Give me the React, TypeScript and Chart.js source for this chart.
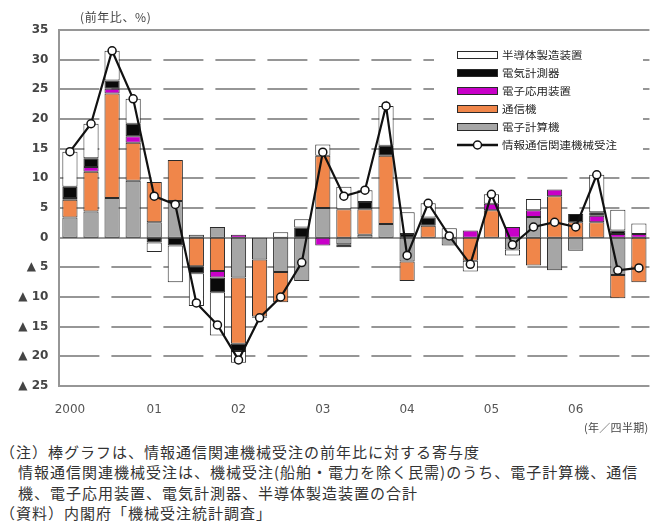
import { useEffect, useRef } from "react";
import { Chart, registerables } from "chart.js";

Chart.register(...registerables);

// Quarterly periods 2000 Q1 – 2006 Q4; only the first quarter of each year is labelled
const quarterLabels = [
  "2000", "", "", "",
  "01", "", "", "",
  "02", "", "", "",
  "03", "", "", "",
  "04", "", "", "",
  "05", "", "", "",
  "06", "", "", "",
];

// Contributions (percentage points) to the year-on-year change
const computers = [3.4, 4.4, 6.7, 9.6, 2.6, 6.2, 0.5, 1.8, -6.7, -3.7, -5.8, -7.3, 5.0, -1.1, 0.5, 2.3, -4.0, 0, -1.3, 0, 0, -2.0, 3.5, -5.5, -2.2, 0, -6.3, 0];
const telecom = [3.0, 6.7, 17.6, 6.4, 6.8, 6.9, -4.8, -5.6, -11.2, -9.6, -5.1, 0, 8.8, 4.8, 4.3, 11.5, -3.3, 2.0, 0, -3.9, 4.6, 0, -4.7, 7.0, 2.6, 2.6, -3.9, -7.5];
const electronicApps = [0.3, 0.8, 0.8, 1.1, 0, 0, 0, -1.1, 0.5, 0, 0, 0, -1.3, 0, 0, 0, 0, 0, 0, 1.2, 1.1, 1.8, 1.1, 1.1, 0, 1.1, 0.6, 0.6];
const measuring = [1.9, 1.5, 1.4, 2.1, -0.8, -1.3, -1.2, -2.5, -1.2, 0, 0, 1.7, 0, -0.5, 1.2, 1.7, 0.6, 1.4, 0, 0, 0, 0, 0, 0, 1.4, 0.6, 0.6, 0];
const semiconductor = [5.9, 5.8, 5.0, 4.2, -1.6, -6.2, -5.5, -7.3, -2.0, -0.2, 0.9, 1.4, 1.9, 3.8, 2.0, 6.7, 3.7, 2.4, 1.6, -1.8, 1.6, -1.0, 1.9, 0, 0, 6.3, 3.5, 1.8];

// Year-on-year change of IT-related machinery orders (%)
const totalOrders = [14.5, 19.2, 31.5, 23.4, 7.0, 5.6, -11.0, -14.7, -20.6, -13.5, -10.0, -4.2, 14.4, 7.0, 8.0, 22.2, -3.0, 5.8, 0.3, -4.5, 7.3, -1.2, 1.8, 2.6, 1.8, 10.6, -5.5, -5.1];

const yMin = -25;
const yMax = 35;
const yStep = 5;

const seriesNames = ["電子計算機", "通信機", "電子応用装置", "電気計測器", "半導体製造装置"];
const lineName = "情報通信関連機械受注";

const GRID = "#969696";
const EDGE = "#2a2a2a";
const LABEL_FONT = "'DejaVu Sans', sans-serif";
const JP_FONT = "'Noto Sans CJK JP', 'Noto Sans', sans-serif";
const DASH = 40;
const GAP = 12;

const nz = (arr: number[]) => arr.map((v) => (v === 0 ? null : v));

// Plot frame and horizontal value grid: long dashes, solid at zero and at the edges
const valueGrid = {
  id: "valueGrid",
  beforeDatasetsDraw(chart: any) {
    const ctx = chart.ctx;
    const area = chart.chartArea;
    const y = chart.scales.y;
    ctx.save();
    ctx.fillStyle = GRID;
    for (const t of y.ticks) {
      const py = Math.round(y.getPixelForValue(t.value)) - 1;
      const solid = t.value === 0 || t.value === yMax || t.value === yMin;
      if (solid) {
        ctx.fillRect(area.left, py, area.right - area.left, 2);
      } else {
        for (let x = area.left; x < area.right; x += DASH + GAP) {
          ctx.fillRect(x, py, Math.min(DASH, area.right - x), 2);
        }
      }
    }
    ctx.fillRect(Math.round(area.left) - 1, area.top - 1, 2, area.bottom - area.top + 2);
    ctx.restore();
  },
};

// Legend drawn inside the plot, top right, on a white panel
const insideLegend = {
  id: "insideLegend",
  afterDraw(chart: any) {
    const ctx = chart.ctx;
    const ds = chart.data.datasets;
    ctx.save();
    ctx.fillStyle = "#ffffff";
    ctx.fillRect(434, 38, 209, 117);
    const order = [4, 3, 2, 1, 0, 5];
    const sx = 457;
    const sw = 41;
    order.forEach((idx, row) => {
      const y = 55 + row * 18;
      const d = ds[idx];
      if (d.type === "line") {
        ctx.strokeStyle = d.borderColor;
        ctx.lineWidth = 2.5;
        ctx.beginPath();
        ctx.moveTo(sx, y);
        ctx.lineTo(sx + sw, y);
        ctx.stroke();
        ctx.beginPath();
        ctx.arc(sx + sw / 2, y, 4, 0, Math.PI * 2);
        ctx.fillStyle = "#ffffff";
        ctx.fill();
        ctx.lineWidth = 1.5;
        ctx.stroke();
      } else {
        ctx.fillStyle = d.backgroundColor;
        ctx.fillRect(sx, y - 4, sw, 8);
        ctx.strokeStyle = EDGE;
        ctx.lineWidth = 1;
        ctx.strokeRect(sx + 0.5, y - 3.5, sw - 1, 7);
      }
      ctx.save();
      ctx.translate(sx + sw + 4, y + 0.5);
      ctx.scale(1.15, 1);
      ctx.fillStyle = "#222";
      ctx.font = `10px ${JP_FONT}`;
      ctx.textBaseline = "middle";
      ctx.textAlign = "left";
      ctx.fillText(d.label, 0, 0);
      ctx.restore();
    });
    ctx.restore();
  },
};

function ContributionChart() {
  const ref = useRef<HTMLCanvasElement | null>(null);

  useEffect(() => {
    if (!ref.current) return;
    const barBase = {
      type: "bar" as const,
      borderColor: EDGE,
      borderWidth: 1,
      borderSkipped: false as const,
      barPercentage: 0.72,
      categoryPercentage: 1,
      order: 2,
    };
    const chart = new Chart(ref.current, {
      data: {
        labels: quarterLabels,
        datasets: [
          { ...barBase, label: seriesNames[0], data: nz(computers), backgroundColor: "#a6a6a6" },
          { ...barBase, label: seriesNames[1], data: nz(telecom), backgroundColor: "#f0864a" },
          { ...barBase, label: seriesNames[2], data: nz(electronicApps), backgroundColor: "#c800c8" },
          { ...barBase, label: seriesNames[3], data: nz(measuring), backgroundColor: "#0a0a0a" },
          { ...barBase, label: seriesNames[4], data: nz(semiconductor), backgroundColor: "#ffffff" },
          {
            type: "line" as const,
            label: lineName,
            data: totalOrders,
            stack: "total",
            borderColor: "#111111",
            borderWidth: 2.2,
            pointRadius: 4,
            pointBackgroundColor: "#ffffff",
            pointBorderColor: "#111111",
            pointBorderWidth: 1.5,
            tension: 0,
            order: 1,
          },
        ],
      } as any,
      options: {
        responsive: false,
        animation: false,
        layout: { padding: { top: 30, bottom: 14, left: 0, right: 0 } },
        plugins: {
          legend: { display: false },
          tooltip: { enabled: false },
        },
        scales: {
          x: {
            stacked: true,
            grid: { display: false, drawTicks: false },
            border: { display: false },
            ticks: {
              autoSkip: false,
              maxRotation: 0,
              padding: 17,
              color: "#555",
              font: { family: LABEL_FONT, size: 12 },
            },
            afterFit: (s: any) => {
              s.height = 40;
            },
          },
          y: {
            stacked: true,
            min: yMin,
            max: yMax,
            ticks: {
              stepSize: yStep,
              padding: 11,
              color: "#444",
              font: { family: LABEL_FONT, size: 12, weight: "bold" },
              callback: (v: any) => (Number(v) < 0 ? `▲ ${-Number(v)}` : `${v}`),
            },
            grid: { display: false, drawTicks: false },
            border: { display: false },
            afterFit: (s: any) => {
              s.width = 59.4;
            },
          },
        },
      } as any,
      plugins: [valueGrid, insideLegend],
    });
    return () => chart.destroy();
  }, []);

  return <canvas ref={ref} width={656} height={440} style={{ display: "block" }} />;
}

const noteStyle: React.CSSProperties = {
  position: "absolute",
  fontFamily: JP_FONT,
  fontSize: 15,
  lineHeight: "20px",
  letterSpacing: "1px",
  color: "#333",
  whiteSpace: "nowrap",
};

export default function App() {
  return (
    <div
      style={{
        position: "absolute",
        left: 0,
        top: 0,
        width: 650,
        height: 529,
        overflow: "hidden",
        background: "#fff",
      }}
    >
      <ContributionChart />
      <div style={{ ...noteStyle, left: 80, top: 7, fontSize: 12, letterSpacing: "0.6px", color: "#444" }}>
        (前年比、%)
      </div>
      <div style={{ ...noteStyle, left: 584, top: 417, fontSize: 11, letterSpacing: "0.3px", color: "#444" }}>
        (年／四半期)
      </div>
      <div style={{ ...noteStyle, left: 0, top: 442 }}>（注）棒グラフは、情報通信関連機械受注の前年比に対する寄与度</div>
      <div style={{ ...noteStyle, left: 18, top: 462 }}>
        情報通信関連機械受注は、機械受注(船舶・電力を除く民需)のうち、電子計算機、通信
      </div>
      <div style={{ ...noteStyle, left: 18, top: 483 }}>機、電子応用装置、電気計測器、半導体製造装置の合計</div>
      <div style={{ ...noteStyle, left: 0, top: 503 }}>（資料）内閣府「機械受注統計調査」</div>
    </div>
  );
}
